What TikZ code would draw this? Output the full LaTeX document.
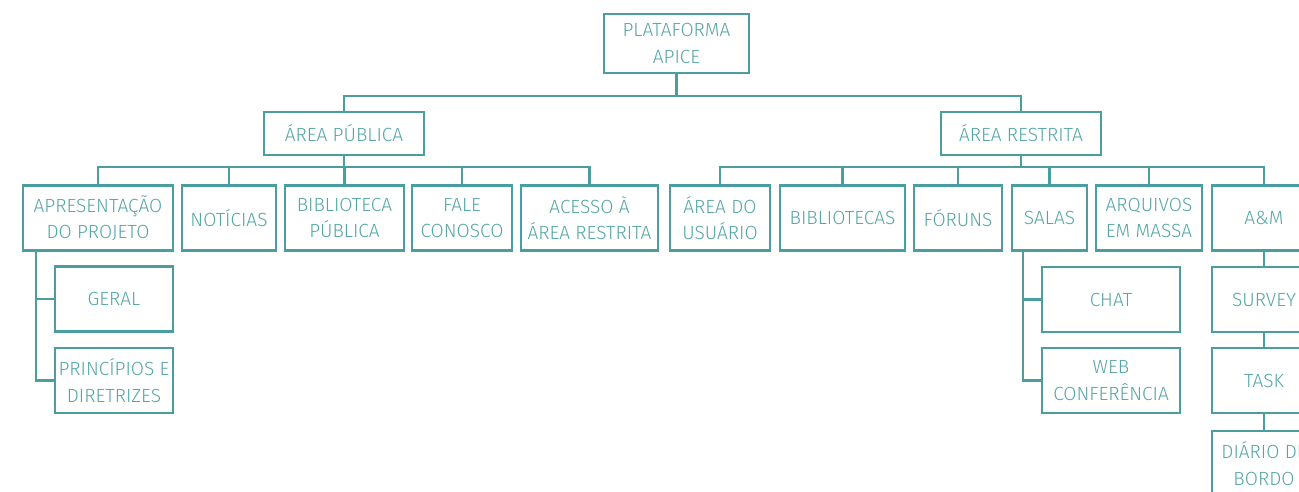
\documentclass[tikz,border=0pt]{standalone}
\usepackage{fontspec}
\setmainfont{Fira Sans Light}
\usetikzlibrary{calc}
\definecolor{apiceline}{HTML}{4A9E9F}
\definecolor{apicetext}{HTML}{55A6A7}
\tikzstyle{box}=[rectangle, draw=apiceline, line width=1.7pt, fill=white, text=apicetext, align=center, inner sep=2pt, minimum height=48.75pt, anchor=center, font=\fontsize{14.3}{19.8}\selectfont]
\tikzstyle{link}=[draw=apiceline, line width=1.7pt]
\begin{document}
\begin{tikzpicture}[x=0.75pt, y=-0.75pt]
	\useasboundingbox (0,0) rectangle (1299,492);
	\coordinate (bus1) at (0,96);
	\coordinate (bus2) at (0,167);

	% top and the two areas
	\node[box, minimum width=108.75pt, minimum height=44.25pt](apice) at (676.5,43.5){PLATAFORMA\\APICE};
	\node[box, minimum width=120pt, minimum height=32.25pt](publica) at (344,133.5){ÁREA PÚBLICA};
	\node[box, minimum width=120pt, minimum height=32.25pt](restrita) at (1021,133.5){ÁREA RESTRITA};

	% area publica
	\node[box, minimum width=112.5pt](apres) at (98,218){APRESENTAÇÃO\\DO PROJETO};
	\node[box, minimum width=70.5pt](noticias) at (229,218){NOTÍCIAS};
	\node[box, minimum width=89.25pt](bibpub) at (344.5,218){BIBLIOTECA\\PÚBLICA};
	\node[box, minimum width=75pt](fale) at (462,218){FALE\\CONOSCO};
	\node[box, minimum width=102.75pt](acesso) at (589.5,218){ACESSO À\\ÁREA RESTRITA};
	\node[box, minimum width=88.5pt](geral) at (114,299){GERAL};
	\node[box, minimum width=88.5pt](principios) at (114,380.5){PRINCÍPIOS E\\DIRETRIZES};

	% area restrita
	\node[box, minimum width=75pt](usuario) at (720,218){ÁREA DO\\USUÁRIO};
	\node[box, minimum width=93.75pt](bibliotecas) at (842.5,218){BIBLIOTECAS};
	\node[box, minimum width=66pt](foruns) at (958,218){FÓRUNS};
	\node[box, minimum width=56.25pt](salas) at (1049.5,218){SALAS};
	\node[box, minimum width=79.5pt](arquivos) at (1149,218){ARQUIVOS\\EM MASSA};
	\node[box, minimum width=78pt](aem) at (1264,218){A\&M};
	\node[box, minimum width=103.5pt](chat) at (1111,299.5){CHAT};
	\node[box, minimum width=103.5pt](web) at (1111,380.5){WEB\\CONFERÊNCIA};
	\node[box, minimum width=78pt](survey) at (1264,299.5){SURVEY};
	\node[box, minimum width=78pt](task) at (1264,380.5){TASK};
	\node[box, minimum width=78pt](diario) at (1264,463.5){DIÁRIO DE\\BORDO};

	% connectors
	\draw[link] (apice) -- (apice |- bus1) -| (publica);
	\draw[link] (apice |- bus1) -| (restrita);
	\foreach \n in {apres,noticias,bibpub,fale,acesso}
		\draw[link] (publica) -- (publica |- bus2) -| (\n);
	\foreach \n in {usuario,bibliotecas,foruns,salas,arquivos,aem}
		\draw[link] (restrita) -- (restrita |- bus2) -| (\n);

	\coordinate (apresline) at (36,250);
	\draw[link] (apresline) |- (geral);
	\draw[link] (apresline) |- (principios);
	\coordinate (salasline) at (1023,250);
	\draw[link] (salasline) |- (chat);
	\draw[link] (salasline) |- (web);

	\draw[link] (aem) -- (survey);
	\draw[link] (survey) -- (task);
	\draw[link] (task) -- (diario);
\end{tikzpicture}
\end{document}
